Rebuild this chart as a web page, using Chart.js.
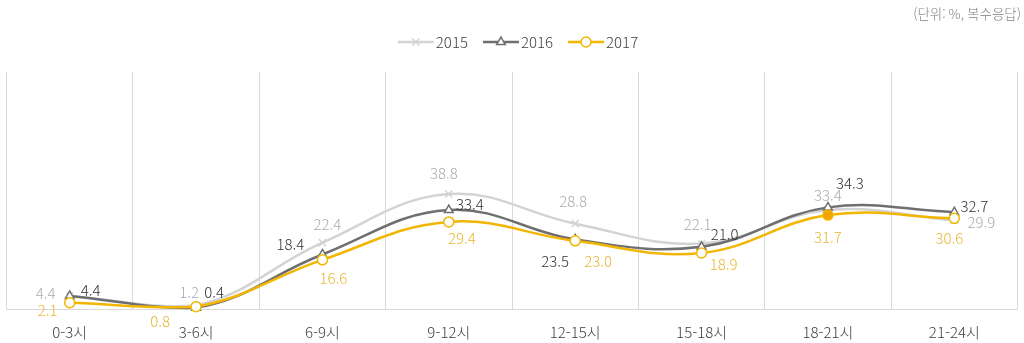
<!DOCTYPE html>
<html lang="ko">
<head>
<meta charset="utf-8">
<script src="https://cdn.jsdelivr.net/npm/chart.js@4/dist/chart.umd.min.js"></script>
<style>
  html, body { margin: 0; padding: 0; background: #ffffff; }
  #wrap { width: 1024px; height: 343px; position: relative; }
</style>
</head>
<body>
<div id="wrap"><canvas id="chart"></canvas></div>
<script>
// Time-of-day categories and yearly shares (%)
const categories = ['0-3시', '3-6시', '6-9시', '9-12시', '12-15시', '15-18시', '18-21시', '21-24시'];
const seriesNames = ['2015', '2016', '2017'];
const values2015 = [4.4, 1.2, 22.4, 38.8, 28.8, 22.1, 33.4, 29.9];
const values2016 = [4.4, 0.4, 18.4, 33.4, 23.5, 21.0, 34.3, 32.7];
const values2017 = [2.1, 0.8, 16.6, 29.4, 23.0, 18.9, 31.7, 30.6];
const unitNote = '(단위: %, 복수응답)';

// Value label placement relative to each point (dx, dy in px)
const labelOffsets2015 = [[-24, -3], [-7, -13], [5, -18], [-5, -21], [-2, -22], [-4, -19], [0, -15], [27, 2]];
const labelOffsets2016 = [[21, -6], [18, -16], [-32, -10], [21, -6], [-20, 22], [23, -12], [22, -24], [20, -6]];
const labelOffsets2017 = [[-22, 8], [-36, 15], [11, 18], [13, 16], [23, 20], [22, 11], [0, 22], [-5, 20]];

const FONT = '"Noto Sans CJK KR", "Noto Sans", sans-serif';
const WEIGHT = '300';

const styles = [
  { line: '#d3d3d3', label: '#ababab', point: 'crossRot', radius: 5, fill: '#d3d3d3', bw: 1.5 },
  { line: '#6f6f6f', label: '#333333', point: 'triangle', radius: 5, fill: '#ffffff', bw: 1.5 },
  { line: '#f2b600', label: '#e9b531', point: 'circle', radius: 5, fill: '#ffffff', bw: 1.5 }
];
const offsets = [labelOffsets2015, labelOffsets2016, labelOffsets2017];
const seriesValues = [values2015, values2016, values2017];

const datasets = seriesValues.map((vals, i) => ({
  label: seriesNames[i],
  data: vals,
  borderColor: styles[i].line,
  backgroundColor: styles[i].fill,
  borderWidth: 2.5,
  tension: 0.4,
  pointStyle: styles[i].point,
  pointRadius: styles[i].radius,
  pointBorderWidth: styles[i].bw,
  pointBorderColor: styles[i].line,
  pointBackgroundColor: i === 2
    ? vals.map((v, k) => categories[k] === '18-21시' ? '#f5a300' : '#ffffff')
    : styles[i].fill,
  clip: false,
  order: 3 - i
}));

// Value labels, legend row and unit note drawn on the canvas
const annotate = {
  id: 'annotate',
  afterDatasetsDraw(chart) {
    const ctx = chart.ctx;
    ctx.save();
    ctx.font = WEIGHT + ' 15px ' + FONT;
    ctx.textAlign = 'center';
    ctx.textBaseline = 'middle';
    chart.data.datasets.forEach((ds, i) => {
      const meta = chart.getDatasetMeta(i);
      meta.data.forEach((pt, k) => {
        const [dx, dy] = offsets[i][k];
        ctx.fillStyle = styles[i].label;
        ctx.fillText(ds.data[k].toFixed(1), pt.x + dx, pt.y + dy);
      });
    });
    ctx.restore();
  },
  afterDraw(chart) {
    const ctx = chart.ctx;
    ctx.save();
    // unit note
    ctx.font = WEIGHT + ' 13.5px ' + FONT;
    ctx.fillStyle = '#7f7f7f';
    ctx.textAlign = 'right';
    ctx.textBaseline = 'middle';
    ctx.fillText(unitNote, 1021, 14);

    // legend
    ctx.font = WEIGHT + ' 15px ' + FONT;
    const iconW = 36, gap = 2, spacing = 15;
    const widths = seriesNames.map(n => ctx.measureText(n).width);
    const total = widths.reduce((a, w) => a + iconW + gap + w, 0) + spacing * (seriesNames.length - 1);
    let x = 518 - total / 2;
    const y = 42;
    seriesNames.forEach((name, i) => {
      const st = styles[i];
      ctx.strokeStyle = st.line;
      ctx.lineWidth = 2.5;
      ctx.beginPath();
      ctx.moveTo(x, y);
      ctx.lineTo(x + iconW, y);
      ctx.stroke();
      ctx.fillStyle = st.fill;
      ctx.strokeStyle = st.line;
      ctx.lineWidth = st.bw;
      Chart.helpers.drawPoint(ctx, {
        pointStyle: st.point,
        radius: st.radius,
        borderWidth: st.bw,
        rotation: 0
      }, x + iconW / 2, y);
      ctx.fillStyle = '#404040';
      ctx.textAlign = 'left';
      ctx.textBaseline = 'middle';
      ctx.fillText(name, x + iconW + gap, y);
      x += iconW + gap + widths[i] + spacing;
    });
    ctx.restore();
  }
};

new Chart(document.getElementById('chart'), {
  type: 'line',
  data: { labels: categories, datasets },
  plugins: [annotate],
  options: {
    responsive: true,
    maintainAspectRatio: false,
    animation: false,
    layout: { padding: { top: 72, left: 3, right: 3, bottom: 0 } },
    plugins: {
      legend: { display: false },
      tooltip: { enabled: false }
    },
    scales: {
      x: {
        offset: true,
        grid: { offset: true, color: '#d9d9d9', lineWidth: 1, drawTicks: false },
        border: { color: '#d9d9d9', width: 1 },
        ticks: { color: '#404040', font: { family: FONT, size: 15, weight: WEIGHT }, padding: 14, maxRotation: 0 },
        afterFit(scale) { scale.height = 34; }
      },
      y: {
        display: false,
        min: 0,
        max: 80
      }
    }
  }
});
</script>
</body>
</html>
